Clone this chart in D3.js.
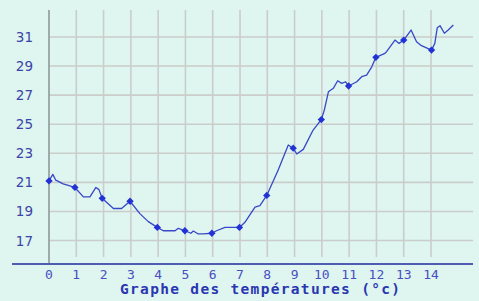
<!DOCTYPE html>
<html>
<head>
<meta charset="utf-8">
<script src="https://cdn.jsdelivr.net/npm/d3@7"></script>
<style>
  body { margin: 0; background: #def5f0; }
  svg { display: block; }
</style>
</head>
<body>
<svg></svg>
<script>
const width = 479;
const height = 301;

// heures et températures
const hours = [0, 0.14, 0.25, 0.52, 0.95, 1.26, 1.5, 1.72, 1.83, 1.95, 2.36, 2.66, 2.97,
	3.33, 3.64, 3.97, 4.19, 4.62, 4.74, 4.98, 5.2, 5.29, 5.47, 5.65, 5.97, 6.14, 6.45, 6.98,
	7.18, 7.55, 7.73, 7.98, 8.4, 8.77, 8.95, 9.08, 9.32, 9.68, 9.98, 10.09, 10.24, 10.42,
	10.58, 10.73, 10.87, 10.98, 11.28, 11.46, 11.64, 11.83, 11.98, 12.31, 12.37, 12.68,
	12.83, 13.0, 13.27, 13.47, 13.65, 14.02, 14.14, 14.23, 14.33, 14.49, 14.63, 14.82];
const temps = [21.1, 21.55, 21.15, 20.9, 20.65, 20.0, 20.0, 20.65, 20.5, 19.9, 19.2, 19.2, 19.7,
	18.85, 18.3, 17.9, 17.67, 17.67, 17.84, 17.67, 17.5, 17.65, 17.45, 17.45, 17.5, 17.67, 17.9, 17.9,
	18.25, 19.3, 19.4, 20.1, 21.85, 23.57, 23.35, 22.95, 23.27, 24.6, 25.32, 25.97, 27.23, 27.47,
	27.99, 27.81, 27.92, 27.63, 27.92, 28.27, 28.38, 28.95, 29.6, 29.87, 29.99, 30.79,
	30.56, 30.79, 31.48, 30.67, 30.4, 30.1, 30.56, 31.64, 31.78, 31.26, 31.48, 31.82];
const markerHours = [0, 0.95, 1.95, 2.97, 3.97, 4.98, 5.97, 6.98, 7.98, 8.95, 9.98, 10.98, 11.98, 13.0, 14.02];
const xTicks = d3.range(0, 15);
const yTicks = [17, 19, 21, 23, 25, 27, 29, 31];
const title = 'Graphe des températures (°c)';

const svg = d3.select('svg')
	.attr('width', width)
	.attr('height', height);

svg.append('rect')
	.attr('width', width)
	.attr('height', height)
	.attr('fill', '#def5f0');

const x = d3.scaleLinear().domain([0, 14]).range([49, 431]);
const y = d3.scaleLinear().domain([17, 31]).range([240.5, 37]);

const gridColor = '#cbcdca';

// quadrillage
svg.selectAll('line.v')
	.data(xTicks.slice(1))
	.enter().append('line')
		.attr('class', 'v')
		.attr('x1', d => x(d))
		.attr('x2', d => x(d))
		.attr('y1', 10)
		.attr('y2', 257)
		.attr('stroke', gridColor)
		.attr('stroke-width', 1.6);

svg.selectAll('line.h')
	.data(yTicks)
	.enter().append('line')
		.attr('class', 'h')
		.attr('x1', 49)
		.attr('x2', 473)
		.attr('y1', d => y(d))
		.attr('y2', d => y(d))
		.attr('stroke', gridColor)
		.attr('stroke-width', 1.6);

// axes
svg.append('line')
	.attr('x1', 49).attr('x2', 49)
	.attr('y1', 10).attr('y2', 264)
	.attr('stroke', '#8e9a98')
	.attr('stroke-width', 1.6);

svg.append('line')
	.attr('x1', 12).attr('x2', 473)
	.attr('y1', 264).attr('y2', 264)
	.attr('stroke', '#4e5cb4')
	.attr('stroke-width', 2);

// étiquettes
svg.selectAll('text.y')
	.data(yTicks)
	.enter().append('text')
		.attr('class', 'y')
		.attr('x', 33)
		.attr('y', d => y(d) + 5)
		.attr('text-anchor', 'end')
		.attr('font-family', 'DejaVu Sans, sans-serif')
		.attr('font-size', 13.5)
		.attr('fill', '#3c44a8')
		.text(d => d);

svg.selectAll('text.x')
	.data(xTicks)
	.enter().append('text')
		.attr('class', 'x')
		.attr('x', d => x(d))
		.attr('y', 279)
		.attr('text-anchor', 'middle')
		.attr('font-family', 'DejaVu Sans Mono, monospace')
		.attr('font-size', 13)
		.attr('fill', '#4a4ec0')
		.text(d => d);

svg.append('text')
	.attr('x', 260)
	.attr('y', 294)
	.attr('text-anchor', 'middle')
	.attr('font-family', 'DejaVu Sans Mono, monospace')
	.attr('font-weight', 'bold')
	.attr('font-size', 14.5)
	.attr('textLength', 280)
	.attr('lengthAdjust', 'spacing')
	.attr('fill', '#2a36b0')
	.text(title);

// courbe
const points = hours.map((h, i) => [h, temps[i]]);
const line = d3.line()
	.x(d => x(d[0]))
	.y(d => y(d[1]));

svg.append('path')
	.datum(points)
	.attr('d', line)
	.attr('fill', 'none')
	.attr('stroke', '#3848c6')
	.attr('stroke-width', 1.3)
	.attr('stroke-linejoin', 'round');

const markers = markerHours.map(h => points.find(p => p[0] === h));
svg.selectAll('path.m')
	.data(markers)
	.enter().append('path')
		.attr('class', 'm')
		.attr('transform', d => `translate(${x(d[0])},${y(d[1])})`)
		.attr('d', d3.symbol().type(d3.symbolDiamond2).size(34))
		.attr('fill', '#2232d6');
</script>
</body>
</html>
